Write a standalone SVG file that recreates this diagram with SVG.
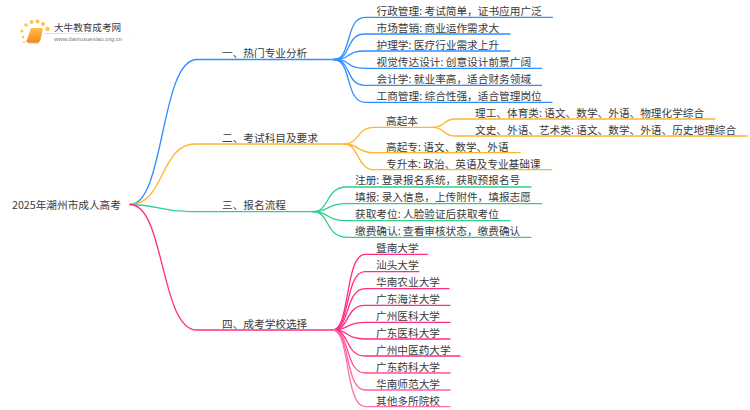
<svg xmlns="http://www.w3.org/2000/svg" width="750" height="410" viewBox="0 0 750 410">
<defs>
<linearGradient id="fade" x1="0" x2="1" y1="0" y2="0"><stop offset="0" stop-color="#ddd"/><stop offset="1" stop-color="#fff"/></linearGradient>
<linearGradient id="book" x1="0" x2="0" y1="0" y2="1"><stop offset="0" stop-color="#ffc04a"/><stop offset="1" stop-color="#f08a1c"/></linearGradient>
</defs>
<style>
text{font-family:"Noto Sans CJK SC","Liberation Sans",sans-serif;font-size:10.67px;fill:#3a3a3a}
.b path{fill:none;stroke-width:1.3;stroke-linecap:round}
.blue path{stroke:#2f8fff}.orange path{stroke:#ffb52e}.green path{stroke:#2fd08a}.pink path{stroke:#ff2d84}
.dot{fill:#ffc24d}
</style>
<rect width="750" height="410" fill="#fff"/>
<g id="connectors" class="b">
<g class="blue">
<path d="M130 204.5C165 204.5 160 59.5 197 59.5H334"/>
<path d="M334 59.500C352 59.500 345 17.300 365 17.300H552.500"/>
<path d="M334 59.500C352 59.500 345 34 365 34H510"/>
<path d="M334 59.500C352 59.500 345 51 365 51H510"/>
<path d="M334 59.500C352 59.500 345 68.300 365 68.300H541.700"/>
<path d="M334 59.500C352 59.500 345 85.300 365 85.300H541.700"/>
<path d="M334 59.500C352 59.500 345 102.300 365 102.300H552"/>
</g>
<g class="orange">
<path d="M130 204.500C165 204.500 160 144 195 144H345"/>
<path d="M345 144C358 144 358 127.300 373 127.300H433"/>
<path d="M433 127.300C445 127.300 443 119 455 119H715"/>
<path d="M433 127.300C445 127.300 443 136 455 136H747"/>
<path d="M345 144C358 144 358 152.700 373 152.700H520"/>
<path d="M345 144C358 144 358 169.700 373 169.700H551.700"/>
</g>
<g class="green">
<path d="M130 204.500C160 204.500 160 211.700 190 211.700H313"/>
<path d="M313 211.700C330 211.700 325 187 347 187H531"/>
<path d="M313 211.700C330 211.700 325 203.700 347 203.700H541.700"/>
<path d="M313 211.700C330 211.700 325 220.700 347 220.700H510"/>
<path d="M313 211.700C330 211.700 325 237.300 347 237.300H531"/>
</g>
<g class="pink">
<path d="M130 204.500C165 204.500 160 330 197 330H333"/>
<path d="M333 330C350 330 345 254.300 365 254.300H427.700"/>
<path d="M333 330C350 330 345 271.700 365 271.700H419"/>
<path d="M333 330C350 330 345 288.700 365 288.700H449"/>
<path d="M333 330C350 330 345 305.300 365 305.300H450"/>
<path d="M333 330C350 330 345 322.300 365 322.300H450"/>
<path d="M333 330C350 330 345 339 365 339H450"/>
<path d="M333 330C350 330 345 356 365 356H460"/>
<path d="M333 330C350 330 345 373 365 373H450" style="stroke:#ff4f98"/>
<path d="M333 330C350 330 345 390 365 390H450" style="stroke:#ff5fa2"/>
<path d="M333 330C350 330 345 406.700 365 406.700H450" style="stroke:#ff6fac"/>
</g>
</g>
<g id="logo">
<circle class="dot" cx="22" cy="31" r="1.500"/><circle class="dot" cx="23" cy="37" r="1.200"/><circle class="dot" cx="24" cy="42" r="1"/>
<circle class="dot" cx="26" cy="25" r="1.800"/><circle class="dot" cx="31.500" cy="22" r="2"/><circle class="dot" cx="37.500" cy="21.500" r="2"/><circle class="dot" cx="43" cy="24" r="2"/><circle class="dot" cx="47.500" cy="29" r="2.200"/>
<path d="M31 28H42Q43 28 42.700 29.500L40.500 40Q40 42 38 42H28.500Q26.500 42 27 40Z" fill="url(#book)"/>
<path d="M27 40Q26.500 42.800 29 42.800H39" stroke="#e87f14" stroke-width="1" fill="none"/>
<rect x="45" y="33" width="88" height="1" fill="url(#fade)"/>
<text x="54" y="31" style="font-size:9.600px">大牛教育成考网</text>
<text x="54" y="41" style="font-size:6px;font-family:'Liberation Sans',sans-serif;fill:#777">www.daniuxuexiao.org.cn</text>
</g>
<g id="root"><text x="12" y="209">2025年潮州市成人高考</text></g>
<g id="b1"><text x="222" y="57">一、热门专业分析</text></g>
<g id="b2"><text x="222" y="141.500">二、考试科目及要求</text></g>
<g id="b3"><text x="222" y="209">三、报名流程</text></g>
<g id="b4"><text x="222" y="327.500">四、成考学校选择</text></g>
<g id="n1"><text x="376.500" y="15">行政管理: 考试简单，证书应用广泛</text></g>
<g id="n2"><text x="376.500" y="32">市场营销: 商业运作需求大</text></g>
<g id="n3"><text x="376.500" y="49">护理学: 医疗行业需求上升</text></g>
<g id="n4"><text x="376.500" y="66">视觉传达设计: 创意设计前景广阔</text></g>
<g id="n5"><text x="376.500" y="83">会计学: 就业率高，适合财务领域</text></g>
<g id="n6"><text x="376.500" y="100">工商管理: 综合性强，适合管理岗位</text></g>
<g id="n7"><text x="386" y="125">高起本</text></g>
<g id="n8"><text x="475" y="117">理工、体育类: 语文、数学、外语、物理化学综合</text></g>
<g id="n9"><text x="475" y="134">文史、外语、艺术类: 语文、数学、外语、历史地理综合</text></g>
<g id="n10"><text x="386" y="150.500">高起专: 语文、数学、外语</text></g>
<g id="n11"><text x="386" y="167.500">专升本: 政治、英语及专业基础课</text></g>
<g id="n12"><text x="355" y="184">注册: 登录报名系统，获取预报名号</text></g>
<g id="n13"><text x="355" y="201">填报: 录入信息，上传附件，填报志愿</text></g>
<g id="n14"><text x="355" y="218">获取考位: 人脸验证后获取考位</text></g>
<g id="n15"><text x="355" y="235">缴费确认: 查看审核状态，缴费确认</text></g>
<g id="n16"><text x="376" y="252">暨南大学</text></g>
<g id="n17"><text x="376" y="269">汕头大学</text></g>
<g id="n18"><text x="376" y="286">华南农业大学</text></g>
<g id="n19"><text x="376" y="303">广东海洋大学</text></g>
<g id="n20"><text x="376" y="320">广州医科大学</text></g>
<g id="n21"><text x="376" y="337">广东医科大学</text></g>
<g id="n22"><text x="376" y="354">广州中医药大学</text></g>
<g id="n23"><text x="376" y="371">广东药科大学</text></g>
<g id="n24"><text x="376" y="388">华南师范大学</text></g>
<g id="n25"><text x="376" y="405">其他多所院校</text></g>
</svg>
